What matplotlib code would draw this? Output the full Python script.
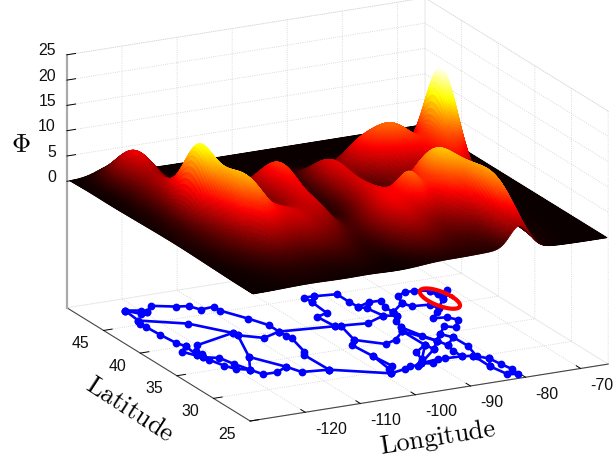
import numpy as np
import matplotlib
matplotlib.use("Agg")
import matplotlib.pyplot as plt
from mpl_toolkits.mplot3d import proj3d

plt.rcParams['font.family'] = ['Liberation Sans', 'DejaVu Sans']
plt.rcParams['mathtext.fontset'] = 'cm'

W, H = 613, 460

# Tick values and labels
lon_ticks = [-120, -110, -100, -90, -80, -70]
lon_labels = ['-120', '-110', '-100', '-90', '-80', '-70']
lat_ticks = [25, 30, 35, 40, 45]
lat_labels = ['25', '30', '35', '40', '45']
phi_ticks = [0, 5, 10, 15, 20, 25]
phi_labels = ['0', '5', '10', '15', '20', '25']

# Surface bumps
peak_lon = [-121.5, -122.0, -121.5, -119.5, -118.0, -119.0, -112.0, -112.0, -105.5, -106.0, -108.0,
            -95.0, -95.0, -96.0, -91.0, -88.0, -82.0, -85.0, -81.5, -81.0, -86.0, -77.0, -74.0]
peak_lat = [47.3, 43.0, 38.5, 36.0, 34.0, 36.0, 33.0, 41.0, 39.6, 35.2, 31.0,
            40.5, 36.0, 31.0, 32.5, 41.5, 41.5, 33.3, 31.0, 28.0, 31.0, 37.5, 41.0]
peak_h = [6.5, 3.5, 11.0, 3.0, 6.0, 5.5, 4.5, 3.5, 7.5, 5.0, 1.5,
          5.5, 4.5, 6.0, 6.0, 5.5, 10.0, 11.0, 3.0, 8.5, 2.5, 7.5, 19.0]
peak_slon = [2.8, 2.5, 1.7, 1.8, 2.2, 4.5, 3.0, 3.0, 2.4, 2.2, 3.0,
             2.2, 2.2, 3.5, 1.5, 2.8, 3.6, 2.8, 2.0, 1.8, 6.0, 2.4, 1.7]
peak_slat = [1.7, 2.0, 1.7, 1.8, 2.0, 4.5, 2.5, 2.0, 2.0, 2.5, 3.0,
             2.2, 2.5, 2.6, 1.3, 1.8, 2.0, 2.4, 2.5, 2.6, 4.0, 2.2, 1.8]

# Network nodes
node_lon = [-122.26, -119.95, -120.73, -119.28, -117.41, -114.01, -112.04, -111.10, -108.44, -108.55,
            -106.34, -104.89, -104.95, -104.92, -104.65, -105.96, -106.79, -106.61, -111.09, -112.12,
            -114.68, -117.21, -118.01, -115.18, -111.74, -111.93, -108.58, -116.21, -122.68, -123.20,
            -123.06, -122.84, -122.45, -121.82, -119.91, -121.36, -123.66, -122.27, -121.31, -121.94,
            -121.63, -119.71, -120.83, -118.99, -119.91,
            -93.34, -91.58, -93.29, -87.84, -87.88, -87.73, -86.82, -85.09, -83.03, -83.95,
            -93.69, -95.99, -95.60, -94.64, -90.19, -86.15, -83.92, -84.22, -85.49, -86.31,
            -87.06, -89.98, -92.42, -96.02, -97.56, -97.09, -96.63, -97.75, -98.50, -95.48,
            -93.99, -92.79, -91.84, -90.07, -90.73, -88.34, -87.21, -84.33, -82.52, -84.23,
            -83.71, -81.10, -79.83, -82.25, -84.29, -86.99, -89.99, -86.62, -85.21,
            -80.99, -82.17, -80.86, -82.59, -80.50, -81.89, -80.00, -80.30, -78.42, -76.27,
            -77.39, -79.55, -77.57, -76.39, -76.85, -79.86, -80.60, -79.32, -77.55, -75.95,
            -73.58, -73.15, -70.94, -73.68, -72.33]
node_lat = [47.90, 47.45, 46.87, 47.11, 48.00, 47.18, 46.90, 45.96, 46.10, 45.24,
            43.04, 41.30, 39.90, 39.00, 38.38, 35.67, 35.10, 31.81, 32.17, 33.54,
            32.81, 32.85, 34.02, 36.29, 40.41, 40.96, 39.21, 43.85, 45.77, 45.14,
            44.38, 42.64, 40.79, 39.94, 39.80, 38.88, 39.10, 38.10, 38.14, 37.52,
            36.94, 36.94, 35.46, 35.48, 34.55,
            45.17, 45.13, 44.20, 44.85, 43.22, 42.02, 41.55, 42.55, 42.50, 41.22,
            41.85, 41.41, 39.28, 39.22, 38.89, 39.79, 40.11, 39.41, 38.55, 37.25,
            36.52, 35.22, 34.74, 36.33, 35.52, 32.93, 30.76, 30.25, 29.44, 29.81,
            30.25, 30.02, 30.36, 30.02, 31.10, 30.64, 30.57, 30.45, 30.24, 31.68,
            32.83, 34.03, 36.22, 34.98, 33.89, 33.47, 32.43, 32.51, 35.18,
            32.15, 30.03, 29.34, 27.90, 28.01, 26.07, 26.81, 25.76, 35.72, 36.99,
            37.73, 37.93, 38.88, 39.53, 40.42, 40.65, 41.45, 42.89, 43.30, 43.28,
            42.88, 42.07, 42.59, 41.06, 41.91]
routes = [
    [0, 1, 3, 4, 5, 6, 7, 8, 9, 10, 11, 12, 13, 14, 15, 16, 17],
    [0, 2, 3],
    [0, 28, 29, 30, 31, 32, 33, 37, 38, 39, 40, 42, 44, 22, 21, 20, 19],
    [28, 27, 25, 24, 26, 12],
    [25, 34, 35, 37],
    [24, 23, 22],
    [23, 19, 18, 17],
    [33, 36, 39, 41, 43, 22],
    [17, 73],
    [12, 57, 58, 59, 60, 62, 61],
    [58, 68, 69, 70, 72, 73, 74, 75, 76, 77, 78],
    [57, 56, 55, 47, 45, 46, 48, 49, 50, 52, 53, 54, 61],
    [47, 46],
    [50, 51, 60],
    [61, 62, 63, 64, 65, 66, 67, 68],
    [61, 110, 111, 112, 113, 114, 115, 118, 116, 117, 107, 106, 105, 104, 103, 102, 87, 88, 89, 92, 90, 91, 79, 77],
    [110, 109, 108, 107],
    [114, 117],
    [65, 89],
    [64, 93, 89],
    [65, 90],
    [70, 71, 73],
    [88, 86, 85, 84, 82, 83],
    [85, 89],
    [86, 94, 95, 96, 98, 100, 101, 99, 97, 83],
    [96, 97],
    [77, 80, 81, 82],
    [92, 77],
    [90, 77],
]

# Red ring
ring_lon, ring_lat, ring_r = -74.0, 41.2, 2.2

fig = plt.figure(figsize=(W / 100, H / 100), dpi=100, facecolor='white')
side = 611.0
ax = fig.add_axes([23.8 / W, -64.2 / H, side / W, side / H], projection='3d', computed_zorder=False)
ax.set_proj_type('ortho')
ax.view_init(elev=18.27, azim=-116.9)
ax.set_box_aspect((401.4, 404.9, 266.4))

lon_grid = np.linspace(-129.5, -65.2, 260)
lat_grid = np.linspace(25, 50, 240)
X, Y = np.meshgrid(lon_grid, lat_grid)
Z = np.zeros_like(X)
for a, b, h, sa, sb in zip(peak_lon, peak_lat, peak_h, peak_slon, peak_slat):
    Z += h * np.exp(-0.5 * ((X - a) / sa) ** 2 - 0.5 * ((Y - b) / sb) ** 2)
colors = plt.get_cmap('hot')(np.clip(Z / Z.max(), 0, 1))
ax.plot_surface(X, Y, Z, facecolors=colors, rstride=1, cstride=1,
                linewidth=0.5, antialiased=True, shade=False, zorder=3)

node_lon_a = np.array(node_lon)
node_lat_a = np.array(node_lat)
for route in routes:
    ax.plot(node_lon_a[route], node_lat_a[route], zs=-25, color='#0000ff', lw=1.9,
            marker='o', ms=5.6, mew=0, zorder=4)
t = np.linspace(0, 2 * np.pi, 80)
ax.plot(ring_lon + ring_r * np.cos(t), ring_lat + ring_r * np.sin(t), zs=-25,
        color='#ff0000', lw=3.0, zorder=5)

ax.set_xticks(lon_ticks)
ax.set_yticks(lat_ticks)
ax.set_zticks(phi_ticks)
ax.set_xticklabels([])
ax.set_yticklabels([])
ax.set_zticklabels([])
ax.set_xlim(-130, -65, view_margin=0)
ax.set_ylim(25, 50, view_margin=0)
ax.set_zlim(-25, 25, view_margin=0)
for axis in (ax.xaxis, ax.yaxis, ax.zaxis):
    axis.pane.set_facecolor('white')
    axis.pane.set_edgecolor('#dddddd')
    axis.pane.set_linewidth(0.6)
    axis._axinfo['grid'].update(color='#cfcfcf', linewidth=0.6, linestyle=':')
    axis._axinfo['tick'].update(inward_factor=0.0, outward_factor=0.3, linewidth={True: 0.7, False: 0.5})
    axis._axinfo['axisline']['color'] = '#444444'
    axis.line.set_color('#444444')
    axis.line.set_linewidth(0.8)
ax.zaxis.line.set_color('#aaaaaa')
ax.zaxis.line.set_linewidth(1.6)


def tick_label(lon, lat, phi, text, dx, dy, ha):
    x2, y2, _ = proj3d.proj_transform(lon, lat, phi, ax.get_proj())
    px, py = ax.transData.transform((x2, y2))
    fig.text((px + dx) / W, (py - dy) / H, text, fontsize=11.4, color='#111111',
             ha=ha, va='center')


for v, s in zip(lon_ticks, lon_labels):
    tick_label(v, 25, -25, s, 10, 16, 'left')
for v, s in zip(lat_ticks, lat_labels):
    tick_label(-130, v, -25, s, -23, 12, 'center')
for v, s in zip(phi_ticks, phi_labels):
    tick_label(-130, 50, v, s, -11, -5, 'right')

fig.text(438 / W, 1 - 438 / H, r'$\mathrm{Longitude}$', fontsize=19, rotation=9, ha='center', va='center')
fig.text(130 / W, 1 - 410 / H, r'$\mathrm{Latitude}$', fontsize=19, rotation=-33, ha='center', va='center')
fig.text(21 / W, 1 - 145 / H, r'$\Phi$', fontsize=19, ha='center', va='center')

fig.savefig('out.png', dpi=100)
